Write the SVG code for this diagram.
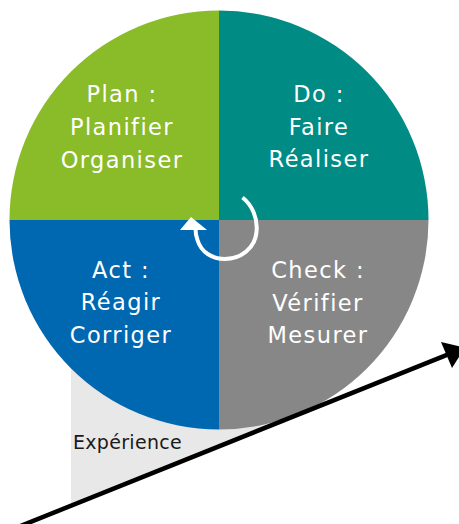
<svg xmlns="http://www.w3.org/2000/svg" width="459" height="524" viewBox="0 0 459 524">
<style>
.q{font-family:"DejaVu Sans","Liberation Sans",sans-serif;font-size:22.5px;fill:#ffffff;text-anchor:middle;letter-spacing:1.4px}
.lbl{font-family:"DejaVu Sans","Liberation Sans",sans-serif;font-size:19px;fill:#1a1a1a;letter-spacing:0.3px}
</style>
<rect width="459" height="524" fill="#ffffff"/>
<g id="experience-area">
<polygon points="71,330 266,330 266,427.3 71,505.6" fill="#e8e8e8"/>
<text class="lbl" x="73" y="449">Expérience</text>
</g>
<g id="plan">
<path d="M219 220 L9.5 220 A209.5 209.5 0 0 1 219 10.5 Z" fill="#8abb29"/>
<text class="q" x="122" y="102">Plan :</text>
<text class="q" x="122" y="135">Planifier</text>
<text class="q" x="122" y="168">Organiser</text>
</g>
<g id="do">
<path d="M219 220 L219 10.5 A209.5 209.5 0 0 1 428.5 220 Z" fill="#008b84"/>
<text class="q" x="319" y="102">Do :</text>
<text class="q" x="319" y="135">Faire</text>
<text class="q" x="319" y="167">Réaliser</text>
</g>
<g id="check">
<path d="M219 220 L428.5 220 A209.5 209.5 0 0 1 219 429.5 Z" fill="#878787"/>
<text class="q" x="318" y="278">Check :</text>
<text class="q" x="318" y="311">Vérifier</text>
<text class="q" x="318" y="343">Mesurer</text>
</g>
<g id="act">
<path d="M219 220 L219 429.5 A209.5 209.5 0 0 1 9.5 220 Z" fill="#0067b1"/>
<text class="q" x="121" y="278">Act :</text>
<text class="q" x="121" y="310">Réagir</text>
<text class="q" x="121" y="343">Corriger</text>
</g>
<g id="connectors">
<path d="M242.5 197.5 C252 205 258 218 256.5 232 C255 248 241 259 225 259 C212 259 201 252 197.5 240 C196 236 195.5 233 195.5 229" fill="none" stroke="#ffffff" stroke-width="4"/>
<polygon points="180,230 207,230 191,217" fill="#ffffff"/>
<line x1="20" y1="526.2" x2="447" y2="354.8" stroke="#000000" stroke-width="4.5"/>
<polygon points="441,342 452,368 465,347.6" fill="#000000"/>
</g>
</svg>
